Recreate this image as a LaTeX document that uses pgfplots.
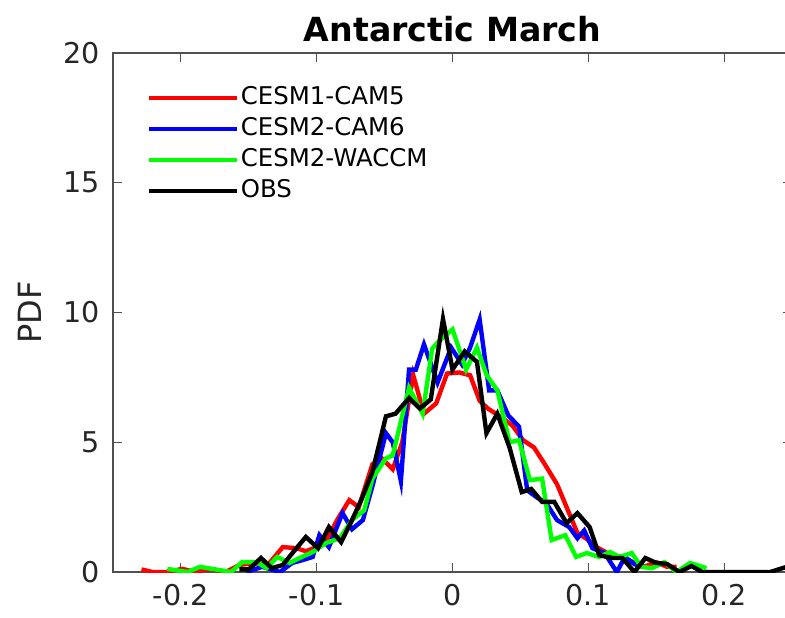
\documentclass[border=0pt]{standalone}
\usepackage{fontspec}
\setmainfont{DejaVu Sans}
\usepackage{pgfplots}
\pgfplotsset{compat=1.18}
\definecolor{axgray}{RGB}{38,38,38}
\definecolor{boxgray}{RGB}{80,80,80}
\begin{document}
\begin{tikzpicture}
\begin{axis}[
  at={(0pt,0pt)}, anchor=south west,
  scale only axis=true,
  width=339.5pt, height=259.5pt,
  xmin=-0.25, xmax=0.25, ymin=0, ymax=20,
  xtick={-0.2,-0.1,0,0.1,0.2},
  ytick={0,5,10,15,20},
  /pgf/number format/assume math mode=true,
  /pgf/number format/fixed,
  tick align=inside,
  major tick length=4.5pt,
  axis line style={boxgray, line width=0.55pt},
  tick style={boxgray, line width=0.55pt},
  ticklabel style={font=\fontsize{14.3}{16}\selectfont, text=axgray},
  xticklabel style={yshift=-5pt, inner sep=1pt},
  yticklabel style={xshift=-3pt},
  title={\bfseries Antarctic March},
  title style={font=\fontsize{16.6}{19}\selectfont, yshift=-4pt},
  ylabel={PDF},
  ylabel style={font=\fontsize{16}{18}\selectfont, text=axgray, yshift=4pt},
  legend style={at={(0.04,0.948)}, anchor=north west, draw=none, fill=none,
    font=\fontsize{12.2}{14}\selectfont,
    nodes={inner sep=1pt, text height=9pt, text depth=2.5pt},
    row sep=2pt},
  legend cell align=left,
  legend image code/.code={\draw[#1, line width=2.2pt] (0pt,0pt) -- (44pt,0pt);},
  every axis plot/.append style={line width=2.2pt, line join=miter, mark=none},
]
\addplot[color={rgb,1:red,1;green,0;blue,0}] coordinates {
(-0.229,0.1) (-0.221,0) (-0.211,0) (-0.199,0.12) (-0.189,0) (-0.179,0.12)
(-0.167,0) (-0.157,0.27) (-0.146,0.35) (-0.136,0.27) (-0.125,0.96) (-0.115,0.92)
(-0.108,0.8) (-0.100,0.96) (-0.092,1.3) (-0.085,2.0) (-0.076,2.77) (-0.069,2.5)
(-0.059,4.15) (-0.052,4.38) (-0.044,3.96) (-0.037,5.0) (-0.029,7.6) (-0.021,6.1)
(-0.012,6.5) (-0.004,7.65) (0.005,7.69) (0.013,7.58) (0.020,6.6) (0.026,6.3)
(0.035,6.0) (0.044,5.65) (0.052,5.08) (0.060,4.8) (0.068,4.15) (0.077,3.38)
(0.084,2.5) (0.092,1.5) (0.099,1.27) (0.106,0.96) (0.117,0.65) (0.125,0.58)
(0.133,0.38) (0.141,0.2) (0.150,0.38) (0.158,0.2) (0.165,0.2)
};
\addlegendentry{CESM1-CAM5}
\addplot[color={rgb,1:red,0;green,0;blue,1}] coordinates {
(-0.152,0) (-0.140,0.2) (-0.127,0) (-0.118,0.35) (-0.111,0.45) (-0.103,0.58)
(-0.098,1.42) (-0.091,0.96) (-0.081,2.27) (-0.074,1.65) (-0.066,2.0) (-0.059,3.3)
(-0.049,5.35) (-0.044,5.0) (-0.038,3.5) (-0.032,7.8) (-0.027,7.8) (-0.021,8.77)
(-0.011,7.3) (-0.001,8.65) (0.007,8.0) (0.013,8.65) (0.020,9.73) (0.027,7.0)
(0.033,7.0) (0.041,6.04) (0.049,5.6) (0.055,3.15) (0.062,2.88) (0.069,2.65)
(0.077,2.0) (0.086,1.73) (0.092,1.3) (0.097,1.6) (0.103,0.92) (0.112,0.73)
(0.121,0) (0.127,0.58) (0.134,0.3) (0.141,0.2)
};
\addlegendentry{CESM2-CAM6}
\addplot[color={rgb,1:red,0;green,1;blue,0}] coordinates {
(-0.210,0.12) (-0.195,0) (-0.186,0.2) (-0.177,0.12) (-0.163,0) (-0.155,0.38)
(-0.144,0.38) (-0.137,0.15) (-0.129,0.58) (-0.120,0.35) (-0.111,0.58) (-0.103,0.77)
(-0.093,1.12) (-0.083,1.3) (-0.074,2.0) (-0.065,2.38) (-0.059,3.6) (-0.049,4.38)
(-0.044,4.5) (-0.032,7.1) (-0.022,6.1) (-0.015,8.6) (-0.010,8.9) (0.000,9.35)
(0.010,7.8) (0.018,8.65) (0.025,7.6) (0.033,7.0) (0.042,5.0) (0.049,5.08)
(0.057,3.54) (0.066,3.6) (0.073,1.23) (0.083,1.42) (0.091,0.58) (0.099,0.73)
(0.108,0.58) (0.116,0.77) (0.123,0.58) (0.132,0.73) (0.139,0.2) (0.147,0.15)
(0.156,0.38) (0.165,0) (0.175,0.35) (0.187,0.15)
};
\addlegendentry{CESM2-WACCM}
\addplot[color=black] coordinates {
(-0.157,0.1) (-0.150,0.1) (-0.141,0.54) (-0.133,0.15) (-0.125,0.27) (-0.116,0.85)
(-0.108,1.35) (-0.099,0.92) (-0.091,1.73) (-0.082,1.15) (-0.074,2.0) (-0.067,2.8)
(-0.059,3.85) (-0.049,6.0) (-0.042,6.1) (-0.032,6.7) (-0.024,6.3) (-0.016,6.65)
(-0.007,9.75) (0.000,7.8) (0.009,8.5) (0.018,8.1) (0.025,5.35) (0.033,6.1)
(0.042,4.8) (0.051,3.08) (0.058,3.2) (0.066,2.7) (0.075,2.7) (0.084,1.88)
(0.092,2.27) (0.101,1.73) (0.108,0.65) (0.117,0.54) (0.125,0.54) (0.134,0)
(0.142,0.54) (0.150,0.35) (0.158,0.31) (0.167,0) (0.176,0.23) (0.184,0)
(0.192,0) (0.201,0) (0.209,0) (0.217,0) (0.226,0) (0.234,0) (0.243,0.15) (0.250,0.25)
};
\addlegendentry{OBS}
\end{axis}
\pgfresetboundingbox
\path[use as bounding box] (-56.5pt,-22.5pt) rectangle (336pt,286pt);
\end{tikzpicture}
\end{document}
